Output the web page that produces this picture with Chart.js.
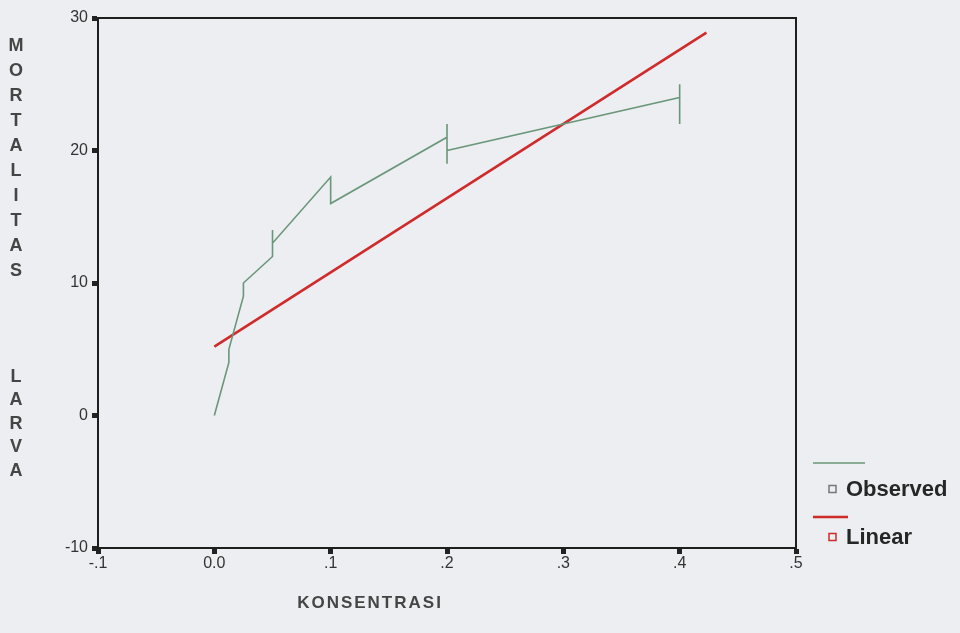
<!DOCTYPE html>
<html>
<head>
<meta charset="utf-8">
<script src="https://cdn.jsdelivr.net/npm/chart.js@4"></script>
<style>
  body { margin: 0; background: #eceef1; }
  #wrap { width: 960px; height: 633px; }
</style>
</head>
<body>
<div id="wrap"><canvas id="grafik" width="960" height="633"></canvas></div>
<script>
// data observasi (diurutkan menurut konsentrasi, ulangan berurutan)
const konsentrasi = [0, 0, 0.0125, 0.0125, 0.025, 0.025, 0.05, 0.05, 0.05, 0.1, 0.1, 0.2, 0.2, 0.2, 0.2, 0.4, 0.4, 0.4]
const mortalitas = [0, 0, 4, 5, 9, 10, 12, 14, 13, 18, 16, 21, 22, 19, 20, 24, 25, 22]

// garis regresi linear (ujung-ujungnya)
const linearX = [0, 0.423]
const linearY = [5.2, 28.9]

const xTickVals = [-0.1, 0, 0.1, 0.2, 0.3, 0.4, 0.5]
const xTickLabels = ["-.1", "0.0", ".1", ".2", ".3", ".4", ".5"]
const yTickVals = [-10, 0, 10, 20, 30]

const judulY1 = "MORTALITAS"
const judulY2 = "LARVA"
const judulX = "KONSENTRASI"
const labelSeri = ["Observed", "Linear"]

const warnaObs = "#6a977a"
const warnaLin = "#cf2b2b"

function toPoints(xs, ys) {
  return xs.map((x, i) => ({ x, y: ys[i] }))
}

const hiasan = {
  id: "hiasan",
  afterDraw(chart) {
    const { ctx, chartArea: a } = chart
    ctx.save()

    // bingkai plot
    ctx.strokeStyle = "#1e1e1e"
    ctx.lineWidth = 2
    ctx.strokeRect(a.left, a.top, a.right - a.left, a.bottom - a.top)

    // judul sumbu Y, huruf bertumpuk
    ctx.fillStyle = "#454545"
    ctx.font = "bold 18px 'Liberation Sans', Arial, sans-serif"
    ctx.textAlign = "center"
    ctx.textBaseline = "middle"
    judulY1.split("").forEach((h, i) => ctx.fillText(h, 16, 46 + i * 25))
    judulY2.split("").forEach((h, i) => ctx.fillText(h, 16, 377 + i * 23.5))

    // judul sumbu X
    ctx.font = "bold 17px 'Liberation Sans', Arial, sans-serif"
    ctx.letterSpacing = "2px"
    ctx.fillText(judulX, 370, 603)
    ctx.letterSpacing = "0px"

    // legenda
    const items = [
      { warna: warnaObs, garisY: 463, garisX2: 865, teksY: 489, kotak: "#777" },
      { warna: warnaLin, garisY: 517, garisX2: 848, teksY: 537, kotak: warnaLin }
    ]
    items.forEach((it, i) => {
      ctx.strokeStyle = it.warna
      ctx.lineWidth = i === 0 ? 1.5 : 2.5
      ctx.beginPath()
      ctx.moveTo(813, it.garisY)
      ctx.lineTo(it.garisX2, it.garisY)
      ctx.stroke()

      ctx.strokeStyle = it.kotak
      ctx.lineWidth = 1.5
      ctx.strokeRect(829, it.teksY - 3.5, 7, 7)

      ctx.fillStyle = "#262626"
      ctx.font = "bold 22px 'Liberation Sans', Arial, sans-serif"
      ctx.textAlign = "left"
      ctx.fillText(labelSeri[i], 846, it.teksY + 1)
    })

    ctx.restore()
  }
}

new Chart(document.getElementById("grafik"), {
  type: "scatter",
  data: {
    datasets: [
      {
        label: labelSeri[0],
        data: toPoints(konsentrasi, mortalitas),
        showLine: true,
        borderColor: warnaObs,
        borderWidth: 1.6,
        pointRadius: 0,
        tension: 0
      },
      {
        label: labelSeri[1],
        data: toPoints(linearX, linearY),
        showLine: true,
        borderColor: warnaLin,
        borderWidth: 2.6,
        pointRadius: 0,
        tension: 0
      }
    ]
  },
  options: {
    responsive: false,
    animation: false,
    layout: { padding: { left: 0, right: 164, top: 18, bottom: 0 } },
    plugins: {
      legend: { display: false },
      tooltip: { enabled: false }
    },
    scales: {
      x: {
        type: "linear",
        min: -0.1,
        max: 0.5,
        afterBuildTicks(s) { s.ticks = xTickVals.map(v => ({ value: v })) },
        afterFit(s) { s.height = 85 },
        grid: { drawOnChartArea: false, tickLength: 6, tickWidth: 5, tickColor: "#222" },
        border: { display: true, color: "#1e1e1e", width: 2 },
        ticks: {
          color: "#333",
          font: { family: "'Liberation Sans', Arial, sans-serif", size: 16 },
          padding: 0,
          maxRotation: 0,
          autoSkip: false,
          callback: (v, i) => xTickLabels[i]
        }
      },
      y: {
        type: "linear",
        min: -10,
        max: 30,
        afterBuildTicks(s) { s.ticks = yTickVals.map(v => ({ value: v })) },
        afterFit(s) { s.width = 98 },
        grid: { drawOnChartArea: false, tickLength: 6, tickWidth: 5, tickColor: "#222" },
        border: { display: true, color: "#1e1e1e", width: 2 },
        ticks: {
          color: "#333",
          font: { family: "'Liberation Sans', Arial, sans-serif", size: 16 },
          padding: 4
        }
      }
    }
  },
  plugins: [hiasan]
})
</script>
</body>
</html>
